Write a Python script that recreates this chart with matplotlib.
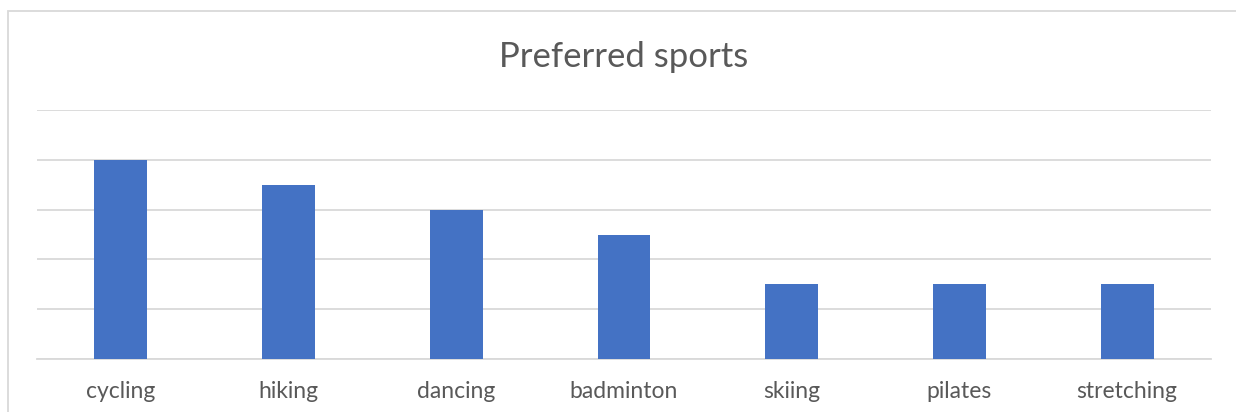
import matplotlib
matplotlib.use("Agg")
import matplotlib.pyplot as plt
from matplotlib.patches import Rectangle

sports = ["cycling", "hiking", "dancing", "badminton", "skiing", "pilates", "stretching"]
counts = [4, 3.5, 3, 2.5, 1.5, 1.5, 1.5]

plt.rcParams["font.family"] = ["Lato", "DejaVu Sans"]

W, H = 1236, 412
fig = plt.figure(figsize=(W / 100, H / 100), dpi=100)
ax = fig.add_axes([37 / W, 1 - 359 / H, (1211 - 37) / W, (359 - 110) / H])

x = range(len(sports))
ax.bar(x, counts, width=0.316, color="#4472C4", zorder=3)
ax.set_xlim(-0.5, len(sports) - 0.5)
ax.set_ylim(0, 5)
ax.set_yticks([0, 1, 2, 3, 4, 5])
ax.yaxis.grid(True, color="#D9D9D9", linewidth=1.3, zorder=0)
ax.tick_params(axis="y", left=False, labelleft=False)
ax.tick_params(axis="x", bottom=False, pad=12)
ax.set_xticks(list(x))
ax.set_xticklabels(sports, fontsize=16.5, color="#595959")
for s in ["top", "right", "left"]:
    ax.spines[s].set_visible(False)
ax.spines["bottom"].set_color("#D9D9D9")
ax.spines["bottom"].set_linewidth(1.3)

fig.text(624 / W, 1 - 57 / H, "Preferred sports", ha="center", va="center",
         fontsize=25, color="#595959")

fig.patches.append(Rectangle((8 / W, -0.1), 1.2, 1 - 11 / H + 0.1, transform=fig.transFigure,
                             fill=False, edgecolor="#D9D9D9", linewidth=1.3))

fig.savefig("out.png", dpi=100)
